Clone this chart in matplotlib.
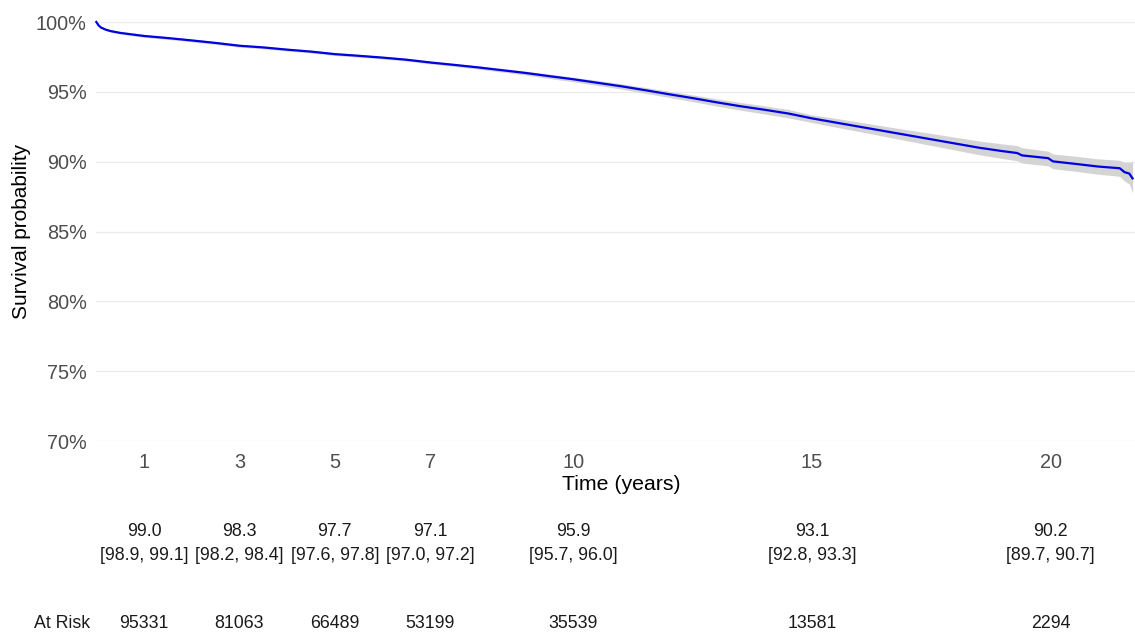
import matplotlib
matplotlib.use("Agg")
import matplotlib.pyplot as plt
from matplotlib.transforms import blended_transform_factory

plt.rcParams["font.family"] = ["Liberation Sans", "DejaVu Sans"]

# Kaplan-Meier estimate (percent) with 95% confidence limits
time_years = [0.0, 0.05, 0.1, 0.2, 0.3, 0.5, 1.0, 1.5, 2.0, 2.5, 3.0, 3.5, 4.0, 4.5,
              5.0, 5.5, 6.0, 6.5, 7.0, 7.5, 8.0, 8.5, 9.0, 9.5, 10.0, 10.5, 11.0,
              11.5, 12.0, 12.5, 13.0, 13.5, 14.0, 14.5, 15.0, 15.5, 16.0, 16.5,
              17.0, 17.5, 18.0, 18.5, 19.0, 19.3, 19.4, 19.95, 20.05, 20.5, 21.0,
              21.45, 21.55, 21.65, 21.72]
survival = [100.0, 99.75, 99.6, 99.45, 99.35, 99.22, 99.0, 98.85, 98.68, 98.5, 98.3,
            98.18, 98.02, 97.88, 97.7, 97.58, 97.45, 97.3, 97.1, 96.93, 96.75, 96.55,
            96.35, 96.12, 95.9, 95.65, 95.4, 95.12, 94.83, 94.55, 94.25, 93.97,
            93.72, 93.45, 93.1, 92.8, 92.5, 92.2, 91.9, 91.6, 91.3, 91.0, 90.75,
            90.62, 90.45, 90.25, 90.02, 89.85, 89.65, 89.53, 89.25, 89.15, 88.8]
lower = [100.0, 99.7, 99.55, 99.4, 99.28, 99.14, 98.9, 98.75, 98.58, 98.4, 98.2,
         98.08, 97.92, 97.78, 97.6, 97.48, 97.35, 97.2, 97.0, 96.82, 96.63, 96.42,
         96.2, 95.95, 95.72, 95.46, 95.2, 94.9, 94.6, 94.3, 93.98, 93.69, 93.42,
         93.14, 92.8, 92.47, 92.15, 91.82, 91.49, 91.16, 90.83, 90.5, 90.22,
         90.07, 89.9, 89.7, 89.5, 89.32, 89.1, 88.95, 88.6, 88.4, 87.75]
upper = [100.0, 99.8, 99.65, 99.5, 99.42, 99.3, 99.1, 98.95, 98.78, 98.6, 98.4,
         98.28, 98.12, 97.98, 97.8, 97.68, 97.55, 97.4, 97.2, 97.03, 96.86, 96.67,
         96.48, 96.27, 96.04, 95.82, 95.58, 95.32, 95.04, 94.78, 94.5, 94.24,
         94.0, 93.74, 93.35, 93.1, 92.83, 92.55, 92.28, 92.02, 91.75, 91.48,
         91.27, 91.15, 91.0, 90.75, 90.55, 90.4, 90.2, 90.1, 89.95, 89.95, 90.0]

# Summary table at selected time points
table_times = [1, 3, 5, 7, 10, 15, 20]
table_est = [99.0, 98.3, 97.7, 97.1, 95.9, 93.1, 90.2]
table_lo = [98.9, 98.2, 97.6, 97.0, 95.7, 92.8, 89.7]
table_hi = [99.1, 98.4, 97.8, 97.2, 96.0, 93.3, 90.7]
at_risk = [95331, 81063, 66489, 53199, 35539, 13581, 2294]

y_ticks = [70, 75, 80, 85, 90, 95, 100]

W, H = 1135, 632
fig = plt.figure(figsize=(W / 100, H / 100), dpi=100)
left_px, right_px, top_px, bottom_px = 96.3, 1135, 22, 441
ax = fig.add_axes([left_px / W, 1 - bottom_px / H,
                   (right_px - left_px) / W, (bottom_px - top_px) / H])

ax.fill_between(time_years, lower, upper, color="#d4d4d4", linewidth=0, zorder=2)
ax.plot(time_years, survival, color="#0000e0", linewidth=1.6, zorder=3,
        clip_on=False, solid_joinstyle="round")

ax.set_xlim(0, 21.77)
ax.set_ylim(70, 100)
ax.set_yticks(y_ticks)
ax.set_yticklabels([f"{v}%" for v in y_ticks])
ax.set_xticks(table_times)
ax.set_xticklabels([str(t) for t in table_times])
ax.tick_params(axis="both", length=0, labelsize=14.3, labelcolor="#4d4d4d")
ax.tick_params(axis="y", pad=7)
ax.tick_params(axis="x", pad=9)
ax.grid(axis="y", color="#ebebeb", linewidth=0.9, zorder=0)
ax.grid(axis="x", visible=False)
for s in ax.spines.values():
    s.set_visible(False)
ax.set_facecolor("white")

ax.set_xlabel("Time (years)", fontsize=15.3, color="black")
ax.xaxis.set_label_coords((621 - left_px) / (right_px - left_px),
                          -(485 - bottom_px) / (bottom_px - top_px))
ax.xaxis.label.set_va("center")
ax.set_ylabel("Survival probability", fontsize=15, color="black")
ax.yaxis.set_label_coords(-(left_px - 22) / (right_px - left_px), 0.5)
ax.yaxis.label.set_va("center")

# Table rows beneath the axis
trans = blended_transform_factory(ax.transData, fig.transFigure)
fs_tab = 12.8
for t, est, lo, hi, n in zip(table_times, table_est, table_lo, table_hi, at_risk):
    ax.text(t, 1 - 531 / H, f"{est:.1f}", transform=trans, ha="center",
            va="center", fontsize=fs_tab, color="#1a1a1a")
    ax.text(t, 1 - 556 / H, f"[{lo:.1f}, {hi:.1f}]", transform=trans,
            ha="center", va="center", fontsize=fs_tab, color="#1a1a1a")
    ax.text(t, 1 - 623 / H, f"{n}", transform=trans, ha="center",
            va="center", fontsize=fs_tab, color="#1a1a1a")
fig.text(90 / W, 1 - 623 / H, "At Risk", ha="right", va="center",
         fontsize=fs_tab, color="#1a1a1a")

fig.savefig("out.png", dpi=100, facecolor="white")
